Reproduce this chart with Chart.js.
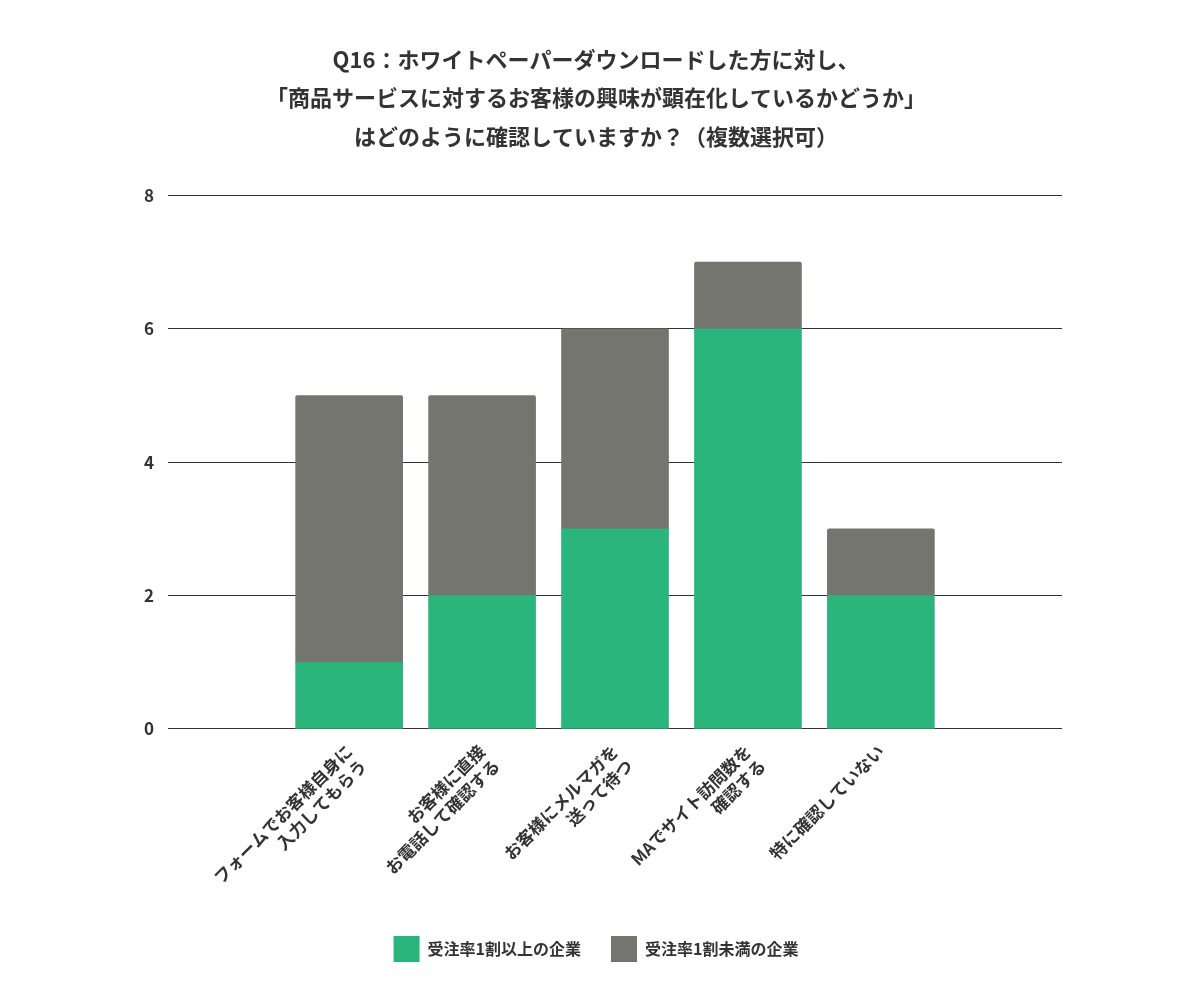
<!DOCTYPE html>
<html>
<head>
<meta charset="utf-8">
<script src="https://cdn.jsdelivr.net/npm/chart.js@4"></script>
<style>
  body { margin: 0; background: #fff; }
</style>
</head>
<body>
<canvas id="chart" width="1200" height="1002"></canvas>
<script>
const categories = [
  ["フォームでお客様自身に", "入力してもらう"],
  ["お客様に直接", "お電話して確認する"],
  ["お客様にメルマガを", "送って待つ"],
  ["MAでサイト訪問数を", "確認する"],
  ["特に確認していない"]
];
const highRate = [1, 2, 3, 6, 2];
const lowRate = [4, 3, 3, 1, 1];
const seriesNames = ["受注率1割以上の企業", "受注率1割未満の企業"];
const titleLines = [
  "Q16：ホワイトペーパーダウンロードした方に対し、",
  "「商品サービスに対するお客様の興味が顕在化しているかどうか」",
  "はどのように確認していますか？（複数選択可）"
];

const font = "'Noto Sans CJK JP', 'Noto Sans', sans-serif";
Chart.defaults.font.family = font;
Chart.defaults.color = "#333";

const ctx = document.getElementById("chart").getContext("2d");
new Chart(ctx, {
  type: "bar",
  data: {
    datasets: [
      {
        label: seriesNames[0],
        data: highRate.map((v, i) => ({ x: i, y: v })),
        backgroundColor: "#2bb57d",
        barThickness: 107
      },
      {
        label: seriesNames[1],
        data: lowRate.map((v, i) => ({ x: i, y: v })),
        backgroundColor: "#74756f",
        barThickness: 107,
        borderRadius: { topLeft: 2, topRight: 2 },
        borderSkipped: "bottom"
      }
    ]
  },
  options: {
    responsive: false,
    animation: false,
    layout: { padding: { left: 130, right: 138, top: 40, bottom: 30 } },
    plugins: {
      title: {
        display: true,
        text: titleLines,
        font: { size: 22, weight: "bold", lineHeight: 1.75 },
        color: "#333",
        padding: { bottom: 40 }
      },
      legend: {
        position: "bottom",
        labels: {
          boxWidth: 26,
          boxHeight: 26,
          padding: 30,
          font: { size: 16, weight: "bold" },
          color: "#333"
        }
      },
      tooltip: { enabled: false }
    },
    scales: {
      x: {
        type: "linear",
        stacked: true,
        min: -0.69,
        max: 4.69,
        afterBuildTicks: (axis) => {
          axis.ticks = categories.map((c, i) => ({ value: i }));
        },
        ticks: {
          callback: (v) => categories[v],
          maxRotation: 45,
          minRotation: 45,
          font: { size: 17, weight: "bold" },
          color: "#333",
          padding: 4
        },
        grid: { display: false },
        border: { display: false }
      },
      y: {
        stacked: true,
        min: 0,
        max: 8,
        ticks: {
          stepSize: 2,
          font: { size: 17, weight: "bold" },
          color: "#333",
          padding: 14
        },
        grid: { color: "#333", lineWidth: 1, drawTicks: false },
        border: { display: false }
      }
    }
  }
});
</script>
</body>
</html>
